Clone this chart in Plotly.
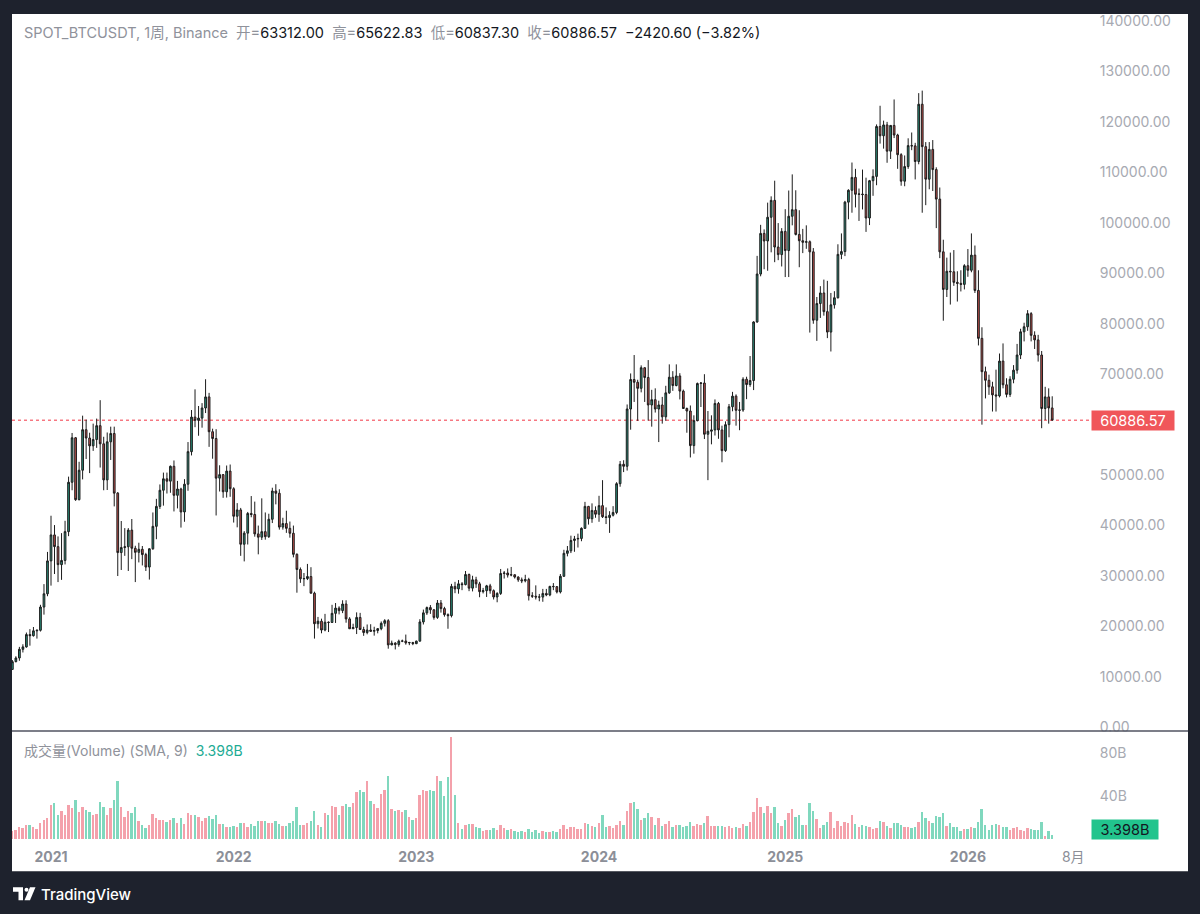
import pandas as pd
import plotly.graph_objects as go

W, H = 1200, 914

# ---------------- data (weekly bars, Binance SPOT BTCUSDT) ----------------
first_week = "2020-10-19"

opens = [
    11495, 13031, 13761, 15480, 15960, 18400, 18180, 19140, 19250, 23860,
    26480, 33000, 38150, 35828, 32260, 33092, 38800, 48580, 57400, 45135,
    50970, 59000, 57350, 55800, 57050, 59800, 56200, 49050, 56600, 58250,
    46430, 34650, 35650, 35800, 39100, 35500, 34700, 35300, 34250, 31780,
    35400, 39850, 43800, 47000, 49270, 48800, 51750, 46000, 47250, 42700,
    48200, 54650, 61500, 60850, 61300, 63300, 65500, 58600, 57250, 49400,
    50100, 46700, 50800, 47300, 41850, 43100, 36300, 38500, 42400, 42200,
    38350, 37700, 38800, 37800, 41250, 46850, 46400, 39700, 40400, 39450,
    38470, 34300, 31300, 29450, 29500, 29900, 26600, 20550, 21050, 19300,
    20850, 20800, 22600, 23650, 23150, 24450, 21500, 19550, 19800, 21800,
    19400, 18800, 19300, 19060, 19200, 19570, 20630, 21150, 16350, 16700,
    16450, 17100, 17120, 16750, 16830, 16600, 17100, 20900, 22700, 23750,
    23300, 21800, 24650, 23550, 22350, 22150, 27950, 27450, 28450, 28300,
    30300, 27600, 29250, 28450, 26900, 27100, 28050, 27100, 25850, 26550,
    30500, 30600, 30200, 30250, 29800, 29250, 29050, 29300, 26100, 26000,
    25850, 25830, 26550, 26250, 27950, 27900, 26850, 29950, 34500, 35000,
    37050, 37350, 37450, 39450, 43800, 41350, 43000, 42250, 43950, 41750,
    41600, 42050, 42600, 48300, 52150, 51750, 63100, 68950, 68400, 67200,
    71280, 69350, 63900, 64950, 63100, 63900, 61550, 66300, 69400, 67750,
    69650, 66650, 63200, 62700, 55850, 60800, 68150, 68250, 58100, 58700,
    58950, 64200, 58950, 54850, 60000, 63550, 65650, 62850, 62900, 69000,
    67950, 68750, 80350, 89850, 97900, 96400, 101100, 104450, 95200, 93700,
    98300, 94500, 101300, 102600, 97700, 96450, 96150, 96250, 94250, 80700,
    84000, 86100, 82400, 78350, 83750, 85150, 93750, 94300, 104100, 106450,
    109000, 105650, 105700, 105600, 100950, 108350, 109200, 119100, 117250, 119400,
    114200, 119300, 117400, 113500, 108250, 111150, 115300, 115250, 112150, 123500,
    115100, 108650, 114550, 110550, 104700, 94250, 86800, 90400, 90300, 88200,
    88000, 87800, 91500, 90600, 93600, 86600, 77100, 70500, 68800, 67500,
    65900, 65700, 72600, 67900, 66000, 69000, 70800, 73800, 78400, 79400,
    82000, 77700, 76800, 73800, 63200, 65500, 63312.00,
]

highs = [
    13350, 14100, 15960, 16480, 18800, 19480, 19900, 19400, 24300, 28400,
    34780, 41950, 40100, 37850, 38500, 40950, 49700, 58350, 57550, 52640,
    61780, 61000, 58400, 60200, 61200, 64850, 57600, 58450, 59600, 59600,
    46650, 40900, 39500, 39500, 41300, 36000, 36600, 35950, 34600, 35500,
    42600, 45300, 48150, 50500, 50500, 51900, 52900, 48850, 47500, 49200,
    56550, 62900, 67000, 63700, 64270, 69000, 66300, 59200, 59100, 51950,
    50200, 51900, 52100, 47600, 44450, 43500, 38900, 42700, 45850, 44750,
    40000, 45400, 42600, 42350, 47500, 48200, 47200, 41550, 42950, 40800,
    40000, 34500, 31700, 30600, 32400, 31750, 26900, 21900, 21550, 22500,
    21000, 24300, 24650, 24000, 25200, 25200, 21850, 20550, 22800, 22700,
    19950, 20400, 20450, 19950, 19700, 21000, 21450, 21450, 17200, 16900,
    17400, 17400, 18400, 16950, 16950, 17200, 21450, 23350, 23950, 24250,
    23450, 25250, 25250, 23900, 22600, 28450, 28850, 29200, 28800, 31000,
    30500, 30050, 29850, 28850, 27650, 28250, 28450, 27350, 26800, 31400,
    31000, 31500, 31800, 30350, 29950, 29700, 30250, 29650, 26800, 28150,
    26450, 27450, 27450, 28050, 28600, 28000, 30400, 35200, 35950, 38000,
    37950, 38400, 39650, 44700, 43900, 44400, 43800, 45900, 49000, 43600,
    42850, 43850, 48600, 52800, 52950, 64000, 70150, 73800, 68900, 71750,
    71350, 72800, 66900, 67200, 64750, 65500, 67700, 71950, 70600, 71950,
    70200, 66950, 63400, 63800, 61850, 68350, 68450, 70000, 62700, 61850,
    65000, 64500, 59800, 60650, 64100, 66500, 66000, 64500, 69400, 69500,
    73600, 80500, 93450, 99600, 98700, 104000, 105250, 108350, 99950, 98950,
    102700, 106400, 109600, 106450, 102500, 98800, 99500, 96500, 95000, 85300,
    87450, 88750, 88500, 86100, 86450, 95750, 97900, 104350, 106650, 111950,
    110700, 106800, 110550, 108950, 108500, 110600, 119500, 123200, 120250, 120000,
    119350, 124450, 117650, 113800, 113350, 116750, 117900, 115850, 125700, 126200,
    116000, 116000, 116400, 111000, 107000, 96650, 93100, 94100, 94600, 90400,
    90600, 91800, 94800, 97900, 95500, 90600, 79300, 71500, 69900, 68500,
    70900, 74100, 76100, 69200, 69600, 71800, 76000, 79000, 80200, 82700,
    82300, 78500, 77800, 74600, 67500, 67200, 65622.83,
]

lows = [
    11400, 12900, 13200, 14850, 15800, 16200, 18000, 17600, 19000, 22350,
    26000, 28100, 30400, 28800, 29240, 32300, 37900, 47000, 44900, 45000,
    49150, 53200, 50400, 54800, 55400, 51500, 47000, 47050, 53000, 43800,
    30000, 31200, 34000, 31000, 33350, 28800, 32700, 32100, 31000, 29300,
    35200, 37300, 43300, 43950, 46350, 46500, 42800, 43400, 39600, 40750,
    46900, 53900, 59500, 57800, 59400, 62300, 55600, 53250, 42000, 46750,
    45500, 45550, 45700, 40600, 39650, 34000, 32900, 36250, 41650, 37800,
    34300, 37150, 37200, 37550, 40500, 44200, 39200, 39200, 38550, 37600,
    33700, 26700, 28650, 28000, 29200, 26550, 17600, 19600, 18650, 19050,
    18900, 20750, 20700, 22400, 22650, 20750, 19500, 19520, 18500, 19300,
    18150, 18450, 18950, 18190, 18650, 19250, 20000, 15600, 16300, 15450,
    16000, 16900, 16400, 16300, 16300, 16500, 17050, 20400, 22300, 22500,
    21350, 21500, 22750, 21950, 19550, 21800, 26600, 26500, 27200, 28150,
    27000, 26950, 27650, 25800, 26550, 25850, 26500, 25350, 24800, 26250,
    29500, 29700, 29950, 29500, 28850, 28600, 28750, 25150, 25650, 25350,
    25000, 24900, 26000, 26000, 27200, 26550, 26550, 29850, 33900, 34550,
    34800, 35650, 36900, 39350, 40200, 40550, 41550, 40750, 41500, 40300,
    38550, 41800, 42250, 47700, 50600, 50900, 59000, 64500, 60750, 66400,
    64500, 60800, 59600, 62400, 56550, 60200, 60750, 66100, 66700, 67600,
    65000, 63100, 58400, 53500, 54250, 60650, 63500, 57150, 49000, 56100,
    57850, 57200, 52550, 54600, 57500, 62650, 59800, 58900, 62550, 65050,
    67500, 66850, 80200, 89400, 90800, 90500, 94150, 92200, 92600, 91350,
    89250, 89250, 99500, 97500, 91200, 94000, 94850, 78250, 80000, 76600,
    81150, 81600, 77150, 74500, 83000, 85000, 92800, 93400, 100700, 102000,
    103050, 100370, 102650, 98200, 99550, 105350, 107450, 115700, 114700, 111900,
    112650, 116800, 110700, 107350, 107250, 110700, 114400, 108600, 111600, 102000,
    103500, 106650, 106300, 98950, 93000, 80600, 85300, 83800, 87500, 84400,
    86400, 86800, 89300, 90200, 86100, 75700, 60000, 65200, 65900, 62600,
    62600, 65400, 67200, 65400, 65500, 68200, 70100, 73000, 76500, 78600,
    76500, 75000, 72500, 59300, 60900, 60200, 60837.30,
]

closes = [
    13031, 13761, 15480, 15960, 18400, 18180, 19140, 19250, 23860, 26480,
    33000, 38150, 35828, 32260, 33092, 38800, 48580, 57400, 45135, 50970,
    59000, 57350, 55800, 57050, 59800, 56200, 49050, 56600, 58250, 46430,
    34650, 35650, 35800, 39100, 35500, 34700, 35300, 34250, 31780, 35400,
    39850, 43800, 47000, 49270, 48800, 51750, 46000, 47250, 42700, 48200,
    54650, 61500, 60850, 61300, 63300, 65500, 58600, 57250, 49400, 50100,
    46700, 50800, 47300, 41850, 43100, 36300, 38500, 42400, 42200, 38350,
    37700, 38800, 37800, 41250, 46850, 46400, 39700, 40400, 39450, 38470,
    34300, 31300, 29450, 29500, 29900, 26600, 20550, 21050, 19300, 20850,
    20800, 22600, 23650, 23150, 24450, 21500, 19550, 19800, 21800, 19400,
    18800, 19300, 19060, 19200, 19570, 20630, 21150, 16350, 16700, 16450,
    17100, 17120, 16750, 16830, 16600, 17100, 20900, 22700, 23750, 23300,
    21800, 24650, 23550, 22350, 22150, 27950, 27450, 28450, 28300, 30300,
    27600, 29250, 28450, 26900, 27100, 28050, 27100, 25850, 26550, 30500,
    30600, 30200, 30250, 29800, 29250, 29050, 29300, 26100, 26000, 25850,
    25830, 26550, 26250, 27950, 27900, 26850, 29950, 34500, 35000, 37050,
    37350, 37450, 39450, 43800, 41350, 43000, 42250, 43950, 41750, 41600,
    42050, 42600, 48300, 52150, 51750, 63100, 68950, 68400, 67200, 71280,
    69350, 63900, 64950, 63100, 63900, 61550, 66300, 69400, 67750, 69650,
    66650, 63200, 62700, 55850, 60800, 68150, 68250, 58100, 58700, 58950,
    64200, 58950, 54850, 60000, 63550, 65650, 62850, 62900, 69000, 67950,
    68750, 80350, 89850, 97900, 96400, 101100, 104450, 95200, 93700, 98300,
    94500, 101300, 102600, 97700, 96450, 96150, 96250, 94250, 80700, 84000,
    86100, 82400, 78350, 83750, 85150, 93750, 94300, 104100, 106450, 109000,
    105650, 105700, 105600, 100950, 108350, 109200, 119100, 117250, 119400, 114200,
    119300, 117400, 113500, 108250, 111150, 115300, 115250, 112150, 123500, 115100,
    108650, 114550, 110550, 104700, 94250, 86800, 90400, 90300, 88200, 88000,
    87800, 91500, 90600, 93600, 86600, 77100, 70500, 68800, 67500, 65900,
    65700, 72600, 67900, 66000, 69000, 70800, 73800, 78400, 79400, 82000,
    77700, 76800, 73800, 63200, 65500, 63312.00, 60886.57,
]

# weekly volume, billions
volume_b = [
    7, 8, 11, 10, 13, 13, 11.5, 9, 15, 18,
    19.5, 32, 33, 22.6, 26, 22.6, 32, 29, 36.6, 25,
    30, 27, 25.4, 22.6, 23, 34, 30, 22.6, 29, 36,
    54, 30, 20.5, 25.7, 24.5, 30, 17, 12.7, 10, 13,
    23, 19.5, 18, 17.7, 16, 17.7, 19.5, 15, 19.5, 14,
    24, 22.6, 22.6, 20.8, 16.4, 19.5, 21.4, 19, 22, 14,
    14, 11, 11.5, 12, 11, 14.5, 14.5, 11.5, 14, 12,
    16.4, 17, 16.4, 14.5, 15, 16.4, 14, 12, 12.4, 15,
    16.7, 30, 12.7, 13, 14.5, 16.4, 25.7, 13, 11.5, 24.5,
    22, 31, 30, 22.6, 31, 32.5, 29.5, 33, 44,
    46, 44, 54, 35, 32.6, 29, 42, 46, 59, 28,
    26, 27, 25.4, 27, 20.8, 18, 19.5, 41, 46, 45,
    46, 44.6, 59, 54, 40, 57.7, 95, 41, 15, 9.6,
    12.7, 13.6, 13.6, 11, 10, 7.8, 8.4, 8.4, 10, 8,
    13, 10, 8.7, 9.3, 7, 6.8, 7, 6.5, 9.3, 6.8,
    8, 5.3, 7, 6.8, 6.8, 7.8, 6, 9.6, 13.3, 9.6,
    10.9, 10.9, 9.6, 9.6, 15, 13.6, 12, 10.9, 15, 22,
    11.5, 12.4, 10, 13, 17, 12.7, 26, 33, 34.7, 28,
    17.7, 19.5, 24.5, 20.8, 13.3, 19.2, 12.4, 14, 16.7, 11.5,
    13, 13.3, 11.5, 12, 15.8, 12.4, 14.3, 13.3, 14.9, 21.4,
    12, 11.8, 12.4,
    12.4, 11.5, 12, 10, 11.5, 10, 13.6, 12.4, 16, 25,
    37.8, 30, 24, 30.7, 24, 29.5, 15, 12.4, 17.7, 24.5,
    27.6, 20, 22.3, 13.3, 13.3, 33.5, 26, 18.3, 10, 13,
    16, 25, 10.5, 16.7, 12.4, 16, 15, 22, 13.6, 10.9,
    13.3, 12.4, 10.9, 9.3, 10, 17, 15.5, 12.4, 10.5, 15,
    15, 13.3, 11, 11, 10, 11, 16, 25.4, 19.8, 16.7,
    15, 21.4, 20, 24, 12, 15, 11, 11.5, 7.8, 9,
    9.6, 11.5, 10.5, 16, 28, 12.7, 8.7, 12.7, 14.3, 13.3,
    11, 10.9, 8.7, 10, 10.9, 8.7, 7.8, 10.5, 9, 8,
    8.7, 16, 2.4, 7, 3.398,
]

year_ticks = ["2021-01-04", "2022-01-03", "2023-01-02", "2024-01-01",
              "2025-01-06", "2026-01-05", "2026-08-03"]
year_labels = ["<b>2021</b>", "<b>2022</b>", "<b>2023</b>", "<b>2024</b>",
               "<b>2025</b>", "<b>2026</b>", "8月"]
# 60000 is hidden behind the last-price label in the reference
price_ticks = [0, 10000, 20000, 30000, 40000, 50000, 70000, 80000,
               90000, 100000, 110000, 120000, 130000, 140000]
vol_ticks = [40, 80]
vol_labels = ["40B", "80B"]

last_price = 60886.57
last_vol_label = "3.398B"

n = len(closes)
assert len(opens) == n and len(highs) == n and len(lows) == n and len(volume_b) == n
dates = pd.date_range(first_week, periods=n, freq="7D")

# ---------------- style ----------------
FONT = "Inter, 'Noto Sans CJK SC', 'Noto Sans', sans-serif"
DARK = "#1e222d"
GREY = "#8f929b"
UP_FILL, DN_FILL = "#2a8f7b", "#c2504c"
EDGE = "#1c1c1c"
VOL_UP, VOL_DN = "#f4a1ab", "#80d8be"

# small vertical correction for the capture (observed ~0.7% squeeze)
S = 1.0069


def px(x):
    return x / W


def py(y):
    return 1 - (y * S) / H


# pixel geometry (reference pixels)
PLOT_L, PLOT_R = 12, 1090
PRICE_TOP, PRICE_BOT = 12, 729
VOL_TOP, VOL_BOT = 731, 840
week_px = 3.513
anchor_x = 51  # pixel of the 2021-01-04 bar

# price scale: 0 at y=726, 10000 per 50.5 px
p_per_px = 10000 / 50.5
price_range = [-(PRICE_BOT - 726) * p_per_px, (726 - PRICE_TOP) * p_per_px]
# volume scale: 0 at y=838, 40B per 43 px
v_per_px = 40 / 43
vol_range = [-(VOL_BOT - 838) * v_per_px, (838 - VOL_TOP) * v_per_px]

base = pd.Timestamp("2021-01-04")
x_left = base + pd.Timedelta(days=7 * (PLOT_L - anchor_x) / week_px)
x_right = base + pd.Timedelta(days=7 * (PLOT_R - anchor_x) / week_px)

vol_colors = [VOL_UP if c >= o else VOL_DN for o, c in zip(opens, closes)]

fig = go.Figure()
fig.add_trace(go.Candlestick(
    x=dates, open=opens, high=highs, low=lows, close=closes,
    xaxis="x", yaxis="y",
    increasing=dict(fillcolor=UP_FILL, line=dict(color=EDGE, width=1)),
    decreasing=dict(fillcolor=DN_FILL, line=dict(color=EDGE, width=1)),
    whiskerwidth=0, showlegend=False, hoverinfo="skip",
))
fig.add_trace(go.Bar(
    x=dates, y=volume_b, xaxis="x", yaxis="y2",
    marker=dict(color=vol_colors, line=dict(width=0)),
    width=7 * 0.55 * 86400000, showlegend=False, hoverinfo="skip",
))

fig.update_layout(
    width=W, height=H,
    margin=dict(l=0, r=0, t=0, b=0),
    paper_bgcolor=DARK, plot_bgcolor="rgba(0,0,0,0)",
    font=dict(family=FONT, color=GREY, size=13),
    showlegend=False, bargap=0,
    xaxis=dict(
        domain=[px(PLOT_L), px(PLOT_R)], anchor="y2", type="date",
        range=[x_left, x_right], rangeslider=dict(visible=False),
        showgrid=False, zeroline=False, showline=False,
        tickvals=year_ticks, ticktext=year_labels,
        ticks="outside", ticklen=3, tickcolor="rgba(0,0,0,0)",
        tickfont=dict(size=14, color="#8c8f98"),
    ),
    yaxis=dict(
        domain=[py(PRICE_BOT), py(PRICE_TOP)], anchor="x", side="right",
        range=price_range, tickvals=price_ticks, tickformat=".2f",
        showgrid=False, zeroline=False, showline=False,
        ticks="outside", ticklen=6, tickcolor="rgba(0,0,0,0)",
        tickfont=dict(size=14, color="#a7aab2"),
    ),
    yaxis2=dict(
        domain=[py(VOL_BOT), py(VOL_TOP)], anchor="x", side="right",
        range=vol_range, tickvals=vol_ticks, ticktext=vol_labels,
        showgrid=False, zeroline=False, showline=False,
        ticks="outside", ticklen=6, tickcolor="rgba(0,0,0,0)",
        tickfont=dict(size=14, color="#a7aab2"),
    ),
)

shapes = [
    # white chart panel
    dict(type="rect", xref="paper", yref="paper", x0=px(12), x1=px(1188),
         y0=py(870), y1=py(12), fillcolor="white", line=dict(width=0), layer="below"),
    # last price dotted line
    dict(type="line", xref="paper", yref="y", x0=px(PLOT_L), x1=px(PLOT_R),
         y0=last_price, y1=last_price, line=dict(color="#f23645", width=1, dash="dot"),
         layer="below"),
    # lower half of the 0.00 label is cut by the pane separator
    dict(type="rect", xref="paper", yref="paper", x0=px(1091), x1=px(1187),
         y0=py(741), y1=py(730), fillcolor="white", line=dict(width=0), layer="above"),
    # pane separator
    dict(type="line", xref="paper", yref="paper", x0=px(12), x1=px(1188),
         y0=py(729.5), y1=py(729.5), line=dict(color="#505360", width=1.5), layer="above"),
    # TradingView logo
    dict(type="path", xref="paper", yref="paper",
         path=f"M {px(13)},{py(886)} L {px(23)},{py(886)} L {px(23)},{py(899)} L {px(18.5)},{py(899)} "
              f"L {px(18.5)},{py(890.5)} L {px(13)},{py(890.5)} Z",
         fillcolor="white", line=dict(width=0)),
    dict(type="circle", xref="paper", yref="paper", x0=px(24.5), x1=px(28.5), y0=py(890.5), y1=py(886.5),
         fillcolor="white", line=dict(width=0)),
    dict(type="path", xref="paper", yref="paper",
         path=f"M {px(30)},{py(886)} L {px(35.5)},{py(886)} L {px(30)},{py(899)} L {px(24.5)},{py(899)} Z",
         fillcolor="white", line=dict(width=0)),
]
fig.update_layout(shapes=shapes)

dark_txt = "#131722"
header = (
    f"<span style='color:{GREY}'>SPOT_BTCUSDT, 1周, Binance&nbsp;&nbsp;开=</span>"
    f"<span style='color:{dark_txt}'>{opens[-1]:.2f}</span>&nbsp;&nbsp;"
    f"<span style='color:{GREY}'>高=</span><span style='color:{dark_txt}'>{highs[-1]:.2f}</span>&nbsp;&nbsp;"
    f"<span style='color:{GREY}'>低=</span><span style='color:{dark_txt}'>{lows[-1]:.2f}</span>&nbsp;&nbsp;"
    f"<span style='color:{GREY}'>收=</span><span style='color:{dark_txt}'>{closes[-1]:.2f}</span>&nbsp;&nbsp;"
    f"<span style='color:{dark_txt}'>−2420.60 (−3.82%)</span>"
)

annotations = [
    dict(xref="paper", yref="paper", x=px(22), y=py(31), xanchor="left", yanchor="middle",
         text=header, showarrow=False, font=dict(size=14.5, family=FONT)),
    dict(xref="paper", yref="paper", x=px(22), y=py(749), xanchor="left", yanchor="middle",
         text=f"<span style='color:{GREY}'>成交量(Volume) (SMA, 9)</span>&nbsp;&nbsp;"
              f"<span style='color:#22ab94'>{last_vol_label}</span>",
         showarrow=False, font=dict(size=14, family=FONT)),
    dict(xref="paper", yref="y", x=px(1090.5), y=last_price, xanchor="left", yanchor="middle",
         text=f"{last_price:.2f}", showarrow=False, bgcolor="#f0565a",
         font=dict(size=14.5, color="white", family=FONT), width=78, height=15, borderpad=2),
    dict(xref="paper", yref="paper", x=px(1090.5), y=py(828), xanchor="left", yanchor="middle",
         text=last_vol_label, showarrow=False, bgcolor="#22c48d",
         font=dict(size=14.5, color=dark_txt, family=FONT), width=62, height=15, borderpad=2),
    dict(xref="paper", yref="paper", x=px(39), y=py(893), xanchor="left", yanchor="middle",
         text="TradingView", showarrow=False,
         font=dict(size=15, color="white", family=FONT, weight=500)),
]
fig.update_layout(annotations=annotations)

fig.write_html("out.html")
